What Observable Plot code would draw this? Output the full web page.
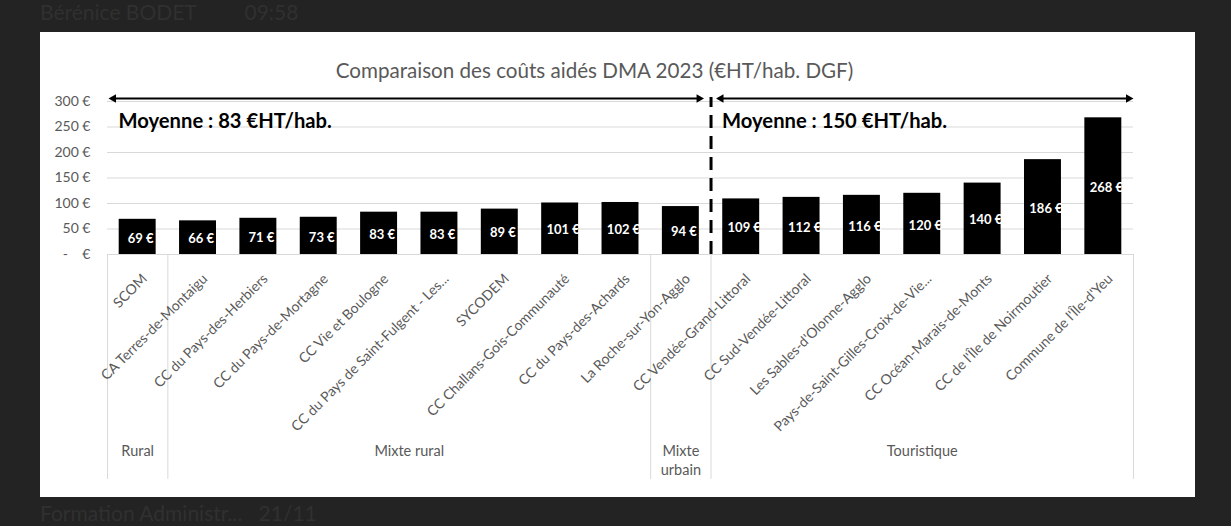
<!DOCTYPE html>
<html>
<head>
<meta charset="utf-8">
<script src="https://cdn.jsdelivr.net/npm/d3@7"></script>
<script src="https://cdn.jsdelivr.net/npm/@observablehq/plot@0.6"></script>
<style>
  html, body { margin: 0; padding: 0; }
  body { width: 1231px; height: 526px; background: #232323; overflow: hidden; position: relative; font-family: Lato, "Open Sans", sans-serif; }
  .ghost { position: absolute; color: #303030; font-size: 21px; line-height: 24px; white-space: nowrap; }
  #panel { position: absolute; left: 40px; top: 32px; width: 1155px; height: 465px; background: #fff; }
  #title { box-sizing: border-box; height: 56px; padding-top: 27px; padding-right: 46px; line-height: 22px;
           text-align: center; font-size: 20.6px; color: #595959; }
  #chart svg { display: block; }
</style>
</head>
<body>
<div class="ghost" style="left:40px; top:0px;">Bérénice BODET &nbsp;&nbsp;&nbsp;&nbsp;&nbsp;&nbsp;&nbsp; 09:58</div>
<div class="ghost" style="left:40px; top:501px;">Formation Administr... &nbsp; 21/11</div>
<div id="panel">
  <div id="title">Comparaison des coûts aidés DMA 2023 (€HT/hab. DGF)</div>
  <div id="chart"></div>
</div>
<script>
// ---- data ----
const categories = [
  "SCOM",
  "CA Terres-de-Montaigu",
  "CC du Pays-des-Herbiers",
  "CC du Pays-de-Mortagne",
  "CC Vie et Boulogne",
  "CC du Pays de Saint-Fulgent - Les...",
  "SYCODEM",
  "CC Challans-Gois-Communauté",
  "CC du Pays-des-Achards",
  "La Roche-sur-Yon-Agglo",
  "CC Vendée-Grand-Littoral",
  "CC Sud-Vendée-Littoral",
  "Les Sables-d'Olonne-Agglo",
  "Pays-de-Saint-Gilles-Croix-de-Vie...",
  "CC Océan-Marais-de-Monts",
  "CC de l'Île de Noirmoutier",
  "Commune de l'Île-d'Yeu"
];
const values = [69, 66, 71, 73, 83, 83, 89, 101, 102, 94, 109, 112, 116, 120, 140, 186, 268];
const groupNames = ["Rural", "Mixte rural", "Mixte\nurbain", "Touristique"];
const groupSizes = [1, 8, 1, 7];
const averages = [83, 150];
const averageBlocks = [3, 1]; // number of groups covered by each average
const yTicks = [0, 50, 100, 150, 200, 250, 300];

// ---- derived tables ----
const n = categories.length;
const rows = categories.map((name, i) => ({ name, value: values[i], i }));
const bounds = [0];
groupSizes.forEach(s => bounds.push(bounds[bounds.length - 1] + s));
const groupRows = groupNames.map((g, k) => ({ g, mid: (bounds[k] + bounds[k + 1]) / 2 }));
const split = bounds[averageBlocks[0]];
const avgRows = [
  { x1: 0, x2: split, label: `Moyenne : ${averages[0]} €HT/hab.` },
  { x1: split, x2: n, label: `Moyenne : ${averages[1]} €HT/hab.` }
];
const arrowY = 306, dashTop = 308, labelY = 261, sepBottom = -441;
const euro = d => d === 0 ? "-\u00a0\u00a0\u00a0\u00a0€" : `${d} €`;

const grey = "#595959", light = "#d9d9d9";
const headR = 3.2, headLen = 5;

function doubleArrow(row, inL, inR) {
  return [
    Plot.ruleY([row], { x1: "x1", x2: "x2", y: arrowY, stroke: "black", strokeWidth: 2,
      insetLeft: inL + 3, insetRight: inR + 3 }),
    Plot.dot([row], { x: "x1", y: arrowY, symbol: "triangle", r: headR, rotate: -90, fill: "black",
      stroke: null, dx: inL + headLen }),
    Plot.dot([row], { x: "x2", y: arrowY, symbol: "triangle", r: headR, rotate: 90, fill: "black",
      stroke: null, dx: -(inR + headLen) })
  ];
}

const chart = Plot.plot({
  width: 1155,
  height: 409,
  marginTop: 13,
  marginBottom: 243,
  marginLeft: 67,
  marginRight: 62,
  x: { domain: [0, n], axis: null },
  y: { domain: [0, 300], axis: null },
  style: { fontFamily: "Lato, 'Open Sans', sans-serif", fontSize: "14px", color: grey, background: "white" },
  marks: [
    Plot.gridY(yTicks.filter(d => d > 0), { stroke: light, strokeOpacity: 1 }),
    Plot.axisY(yTicks, { tickSize: 0, tickPadding: 17, tickFormat: euro, fontSize: 14, fill: grey, label: null }),
    Plot.ruleY([0], { stroke: light, strokeOpacity: 1 }),
    Plot.ruleX(bounds, { y1: 0, y2: sepBottom, stroke: light, strokeOpacity: 1 }),
    Plot.rectY(rows, { x1: d => d.i, x2: d => d.i + 1, y: "value", insetLeft: 11.7, insetRight: 11.7, fill: "black" }),
    Plot.text(rows, { x: d => d.i + 0.5, y: d => d.value / 2, text: d => `${d.value} €`, fill: "white",
      fontWeight: "bold", fontSize: 13, dx: 3, dy: 1.5 }),
    Plot.text(rows, { x: d => d.i + 0.5, y: 0, text: "name", rotate: -45, textAnchor: "end",
      fill: grey, fontSize: 14, dx: 7, dy: 22 }),
    Plot.text(groupRows, { x: "mid", y: 0, text: "g", lineAnchor: "top", lineHeight: 1.3,
      fill: grey, fontSize: 14.5, dy: 188 }),
    Plot.ruleX([split], { y1: 0, y2: dashTop, stroke: "black", strokeWidth: 3, strokeDasharray: "13,8" }),
    ...doubleArrow(avgRows[0], 1, 7),
    ...doubleArrow(avgRows[1], 5, 0),
    Plot.text(avgRows, { x: "x1", y: labelY, text: "label", textAnchor: "start", fill: "black",
      fontWeight: "bold", fontSize: 20.2, dx: 11 })
  ]
});
document.getElementById("chart").appendChild(chart);
</script>
</body>
</html>
